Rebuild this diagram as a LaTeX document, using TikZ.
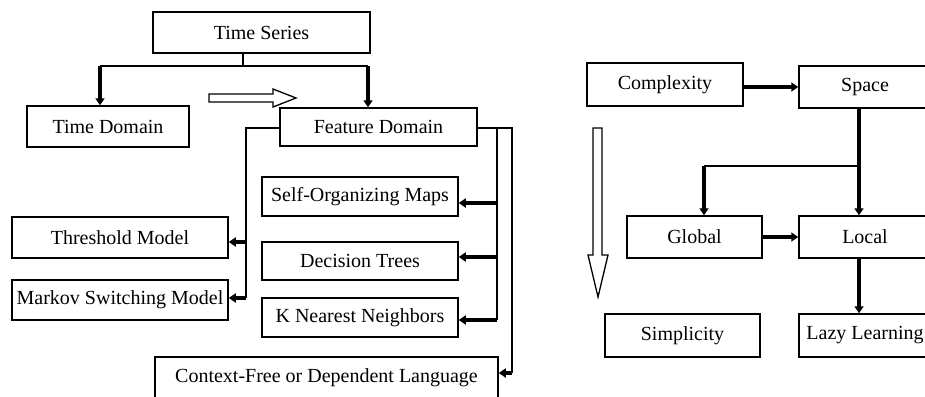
\documentclass[tikz,border=0pt]{standalone}
\usepackage{fontspec}
\setmainfont{Liberation Serif}
\usetikzlibrary{arrows.meta}
\tikzset{
  box/.style={draw, line width=1.5pt, inner sep=0pt, font=\fontsize{20}{23}\selectfont},
  trunk/.style={line width=1.5pt},
  arr/.style={line width=3.4pt, -{Triangle[length=7pt,width=9pt]}},
  hollow/.style={draw, line width=1.3pt, fill=white}
}
\begin{document}
\begin{tikzpicture}[x=1pt,y=-1pt]
\useasboundingbox (0,0) rectangle (925,396);
\clip (0,0) rectangle (925,396);
\fill[white] (0,0) rectangle (925,396);

% left part boxes
\node[box, minimum width=217pt, minimum height=41pt] (ts) at (261.5,32.5) {Time Series};
\node[box, minimum width=162pt, minimum height=41pt] (td) at (108,126.5) {Time Domain};
\node[box, minimum width=197pt, minimum height=38pt] (fd) at (378.5,127) {Feature Domain};
\node[box, minimum width=196pt, minimum height=39pt] (som) at (360,196.5) {Self-Organizing Maps};
\node[box, minimum width=196pt, minimum height=38pt] (dt) at (360,261) {Decision Trees};
\node[box, minimum width=196pt, minimum height=39pt] (knn) at (360,317.5) {K Nearest Neighbors};
\node[box, minimum width=343pt, minimum height=42pt] (cf) at (326.5,378) {Context-Free or Dependent Language};
\node[box, minimum width=216pt, minimum height=41pt] (thr) at (120,237.5) {Threshold Model};
\node[box, minimum width=216pt, minimum height=40pt] (mk) at (120,300) {Markov Switching Model};

% right part boxes
\node[box, minimum width=156pt, minimum height=43pt] (cx) at (665,84.5) {Complexity};
\node[box, minimum width=132pt, minimum height=42pt] (sp) at (865,87) {Space};
\node[box, minimum width=135pt, minimum height=42pt] (gl) at (694.5,237) {Global};
\node[box, minimum width=132pt, minimum height=42pt] (lo) at (865,237) {Local};
\node[box, minimum width=155pt, minimum height=43pt] (si) at (682.5,335.5) {Simplicity};
\node[box, minimum width=132pt, minimum height=43pt] (ll) at (865,335.5) {Lazy Learning};

% hollow arrows
\draw[hollow] (209,94) -- (273,94) -- (273,89) -- (296,98) -- (273,107) -- (273,102) -- (209,102) -- cycle;
\draw[hollow] (593,128) -- (602,128) -- (602,255) -- (608,255) -- (598,297) -- (588,255) -- (593,255) -- cycle;

% Time Series connectors
\coordinate (j1) at (243,66);
\coordinate (jl) at (100,66);
\coordinate (jr) at (368,66);
\draw[trunk] (ts.south -| j1) -- (j1);
\draw[trunk] (jl) -- (jr);
\draw[arr] (jl) -- (jl |- td.north);
\draw[arr] (jr) -- (jr |- fd.north);

% Feature Domain left branch
\coordinate (fl) at (246,128);
\coordinate (a1) at (246,242);
\coordinate (a2) at (246,298);
\draw[trunk] (fd.west |- fl) -- (fl) -- (a2);
\draw[arr] (a1) -- (a1 -| thr.east);
\draw[arr] (a2) -- (a2 -| mk.east);

% Feature Domain right branches
\coordinate (fr1) at (497,128);
\coordinate (fr2) at (512,128);
\coordinate (b1) at (497,203);
\coordinate (b2) at (497,257);
\coordinate (b3) at (497,320);
\coordinate (b4) at (512,373);
\draw[trunk] (fd.east |- fr1) -- (fr2) -- (b4);
\draw[trunk] (fr1) -- (b3);
\draw[arr] (b1) -- (b1 -| som.east);
\draw[arr] (b2) -- (b2 -| dt.east);
\draw[arr] (b3) -- (b3 -| knn.east);
\draw[arr] (b4) -- (b4 -| cf.east);

% right part connectors
\draw[arr] (cx.east |- sp.west) -- (sp.west);
\coordinate (s1) at (859,108);
\coordinate (s2) at (859,166);
\coordinate (s3) at (704,166);
\draw[arr] (sp.south -| s1) -- (s1 |- lo.north);
\draw[trunk] (s2) -- (s3);
\draw[arr] (s3) -- (s3 |- gl.north);
\draw[arr] (gl.east) -- (lo.west);
\draw[arr] (lo.south -| s1) -- (s1 |- ll.north);
\end{tikzpicture}
\end{document}
